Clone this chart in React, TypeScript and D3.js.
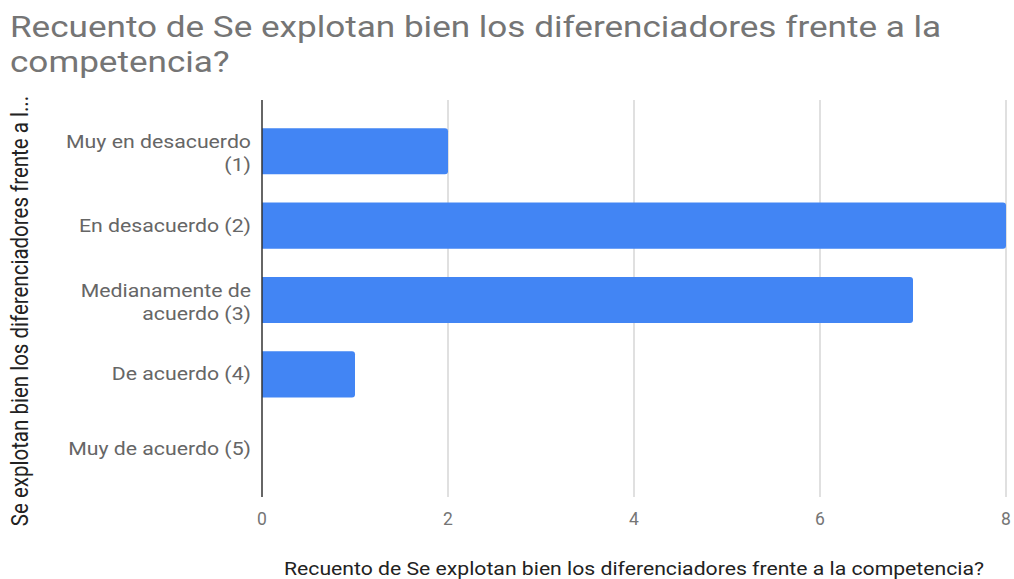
import React from "react";
import * as d3 from "d3";

const categories = [
  ["Muy en desacuerdo", "(1)"],
  ["En desacuerdo (2)"],
  ["Medianamente de", "acuerdo (3)"],
  ["De acuerdo (4)"],
  ["Muy de acuerdo (5)"],
];
const values = [2, 8, 7, 1, 0];
const xTicks = [0, 2, 4, 6, 8];
const title = ["Recuento de Se explotan bien los diferenciadores frente a la", "competencia?"];
const xTitle = "Recuento de Se explotan bien los diferenciadores frente a la competencia?";
const yTitle = "Se explotan bien los diferenciadores frente a l...";

export default function App() {
  const W = 1014, H = 579;
  const left = 262, right = 1006, top = 100, bottom = 497;
  const x = d3.scaleLinear().domain([0, 8]).range([left, right]);
  const idx = categories.map((_, i) => String(i));
  const y = d3.scaleBand().domain(idx).range([114, 486]).paddingInner(0.38).paddingOuter(0.19);
  const font = "Roboto, sans-serif";
  const sx = 1.15;
  const barPath = (v: number, i: number) => {
    const y0 = y(String(i))!;
    const h = y.bandwidth();
    const x0 = x(0), x1 = x(v);
    const r = Math.min(3, (x1 - x0) / 2);
    return `M${x0},${y0}H${x1 - r}Q${x1},${y0} ${x1},${y0 + r}V${y0 + h - r}Q${x1},${y0 + h} ${x1 - r},${y0 + h}H${x0}Z`;
  };
  return (
    <svg width={W} height={H} style={{ position: "absolute", left: 0, top: 0 }} fontFamily={font}>
      <rect width={W} height={H} fill="#fff" />
      <g transform={`translate(10,0) scale(1.19,1)`}>
        {title.map((t, i) => (
          <text key={i} x={0} y={37 + i * 35} fontSize={29.5} fill="#757575">{t}</text>
        ))}
      </g>
      {xTicks.filter((t) => t !== 0).map((t) => (
        <line key={t} x1={x(t)} x2={x(t)} y1={top} y2={bottom} stroke="#cccccc" strokeWidth={1.2} />
      ))}
      {values.map((v, i) => v > 0 && (
        <path key={i} d={barPath(v, i)} fill="#4285F4" />
      ))}
      <line x1={x(0)} x2={x(0)} y1={top} y2={bottom} stroke="#333333" strokeWidth={1.5} />
      {xTicks.map((t) => (
        <text key={t} x={x(t)} y={525} fontSize={17.5} fill="#757575" textAnchor="middle">{t}</text>
      ))}
      <g transform={`translate(251,0) scale(${sx},1)`}>
        {categories.map((lines, i) => {
          const cy = y(String(i))! + y.bandwidth() / 2;
          const n = lines.length;
          return lines.map((l, j) => (
            <text key={i + "-" + j} x={0} y={cy + (j - (n - 1) / 2) * 23 + 6 + (n - 1) * 2.5} fontSize={18.5} fill="#666666" textAnchor="end">{l}</text>
          ));
        })}
      </g>
      <text x={634} y={575} fontSize={18} fill="#222" textAnchor="middle" textLength={700} lengthAdjust="spacingAndGlyphs">{xTitle}</text>
      <text transform={`translate(28,311) scale(1.18,1) rotate(-90)`} fontSize={20.5} fill="#222" textAnchor="middle">{yTitle}</text>
    </svg>
  );
}
